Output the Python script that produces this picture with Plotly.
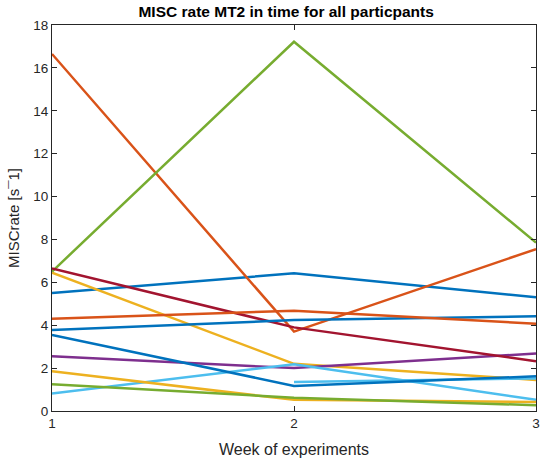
import plotly.graph_objects as go

# Weeks of the experiment
weeks = [1, 2, 3]

# MISC rate per participant over the three weeks (None = not measured)
p01 = [5.5, 6.42, 5.3]
p02 = [16.65, 3.7, 7.55]
p03 = [6.45, 2.2, 1.45]
p04 = [2.55, 2.0, 2.68]
p05 = [6.5, 17.22, 7.85]
p06 = [0.82, 2.18, 0.52]
p07 = [6.65, 3.9, 2.32]
p08 = [3.78, 4.24, 4.42]
p09 = [4.3, 4.68, 4.07]
p10 = [1.85, 0.52, 0.42]
p11 = [1.25, 0.62, 0.27]
p12 = [None, 1.35, 1.52]
p13 = [3.55, 1.17, 1.62]

participants = [p01, p02, p03, p04, p05, p06, p07, p08, p09, p10, p11, p12, p13]

# MATLAB default colors
BLUE, ORANGE, YELLOW, PURPLE = "#0072BD", "#D95319", "#EDB120", "#7E2F8E"
GREEN, LIGHTBLUE, DARKRED = "#77AC30", "#4DBEEE", "#A2142F"
line_colors = [BLUE, ORANGE, YELLOW, PURPLE, GREEN, LIGHTBLUE, DARKRED,
               BLUE, ORANGE, YELLOW, GREEN, LIGHTBLUE, BLUE]

fig = go.Figure()
for vals, color in zip(participants, line_colors):
    fig.add_trace(go.Scatter(
        x=weeks, y=vals, mode="lines",
        line=dict(color=color, width=2.5),
        connectgaps=False, showlegend=False, hoverinfo="x+y",
    ))

FONT = "Liberation Sans, Arial, sans-serif"

axis_common = dict(
    showline=True, linecolor="#262626", linewidth=1, mirror="ticks",
    ticks="inside", ticklen=5, tickcolor="#262626", tickwidth=1,
    showgrid=False, zeroline=False,
    tickfont=dict(family=FONT, size=13.5, color="#262626"),
)

fig.update_layout(
    width=544, height=463,
    margin=dict(l=52, r=4, t=25, b=52),
    paper_bgcolor="white", plot_bgcolor="white",
    title=dict(
        text="<b>MISC rate MT2 in time for all particpants</b>",
        x=0.526, xanchor="center", y=0.975, yanchor="middle",
        font=dict(family=FONT, size=15.5, color="#000000"),
    ),
    xaxis=dict(
        range=[1, 3], tickvals=[1, 2, 3],
        title=dict(text="Week of experiments", standoff=13,
                   font=dict(family=FONT, size=16, color="#262626")),
        **axis_common,
    ),
    yaxis=dict(
        range=[0, 18], tickvals=list(range(0, 19, 2)),
        title=dict(text="MISCrate [s¯1]", standoff=10,
                   font=dict(family=FONT, size=15, color="#262626")),
        **axis_common,
    ),
)

fig.write_html("out.html")
